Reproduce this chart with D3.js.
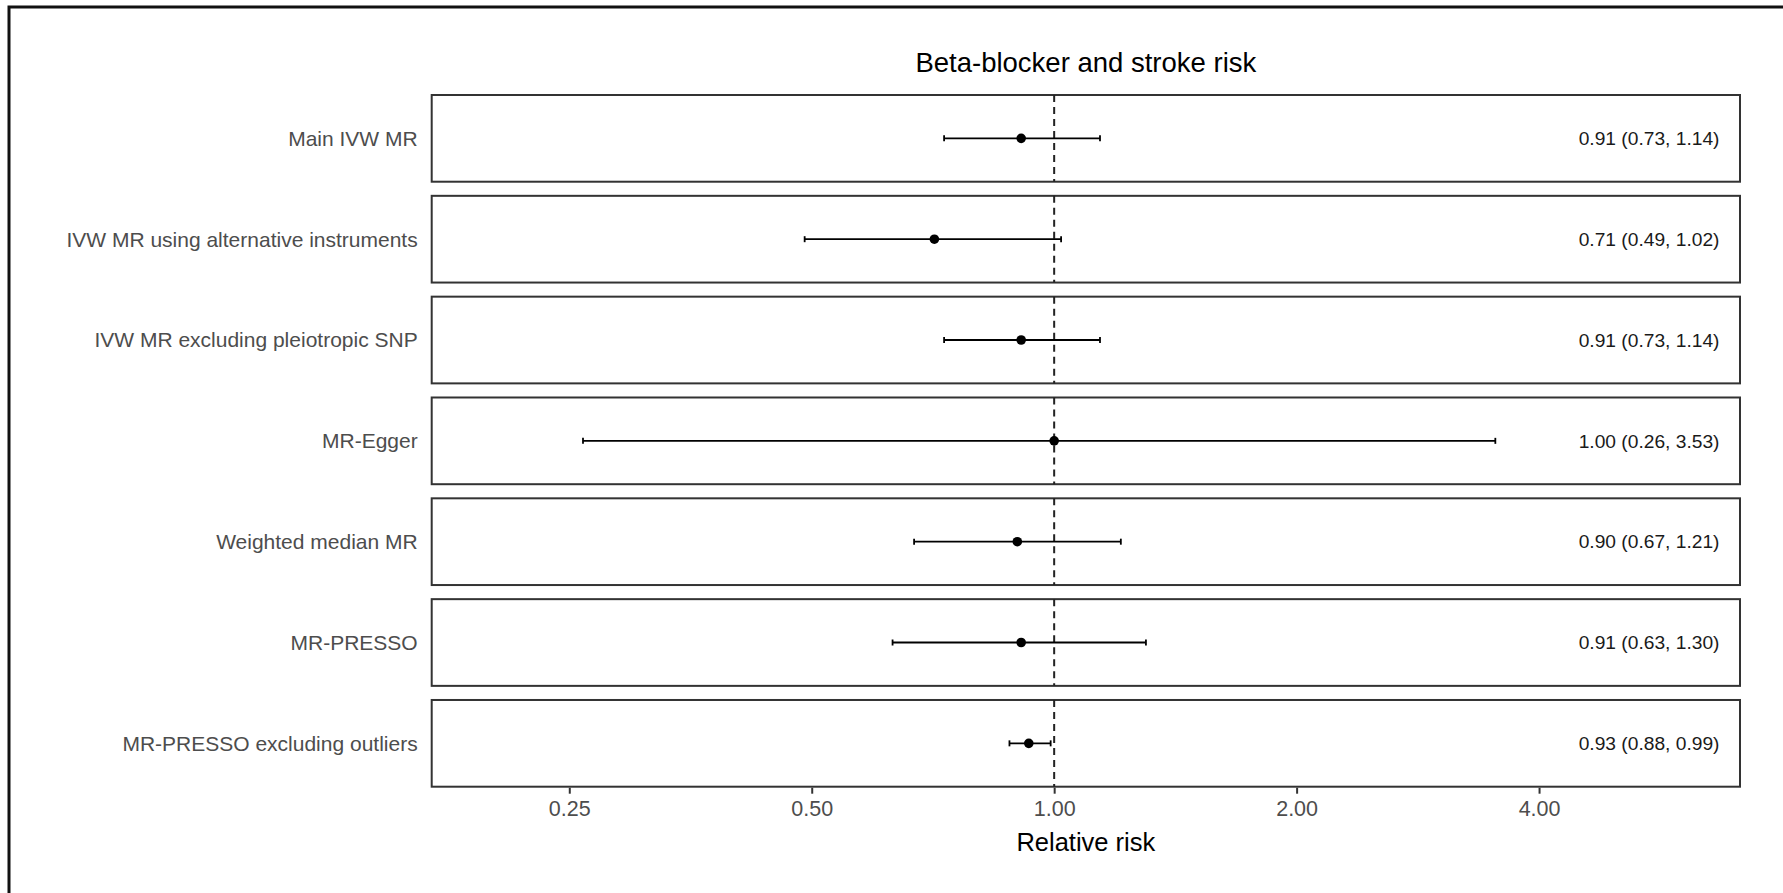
<!DOCTYPE html>
<html>
<head>
<meta charset="utf-8">
<script src="https://cdn.jsdelivr.net/npm/d3@7"></script>
<style>
  body { margin: 0; background: #fff; }
  svg { display: block; font-family: "Liberation Sans", Arial, sans-serif; }
</style>
</head>
<body>
<div id="chart"></div>
<script>
// forest plot data, top to bottom
const methods = [
  "Main IVW MR",
  "IVW MR using alternative instruments",
  "IVW MR excluding pleiotropic SNP",
  "MR-Egger",
  "Weighted median MR",
  "MR-PRESSO",
  "MR-PRESSO excluding outliers"
];
const estimate = [0.91, 0.71, 0.91, 1.00, 0.90, 0.91, 0.93];
const lower = [0.73, 0.49, 0.73, 0.26, 0.67, 0.63, 0.88];
const upper = [1.14, 1.02, 1.14, 3.53, 1.21, 1.30, 0.99];
const tickValues = [0.25, 0.5, 1, 2, 4];

const W = 1783, H = 893;
const panel = { left: 431.7, right: 1740, top: 95, bottom: 786.7 };

const rows = methods.map((m, i) => ({
  method: m, est: estimate[i], lo: lower[i], hi: upper[i],
  label: `${estimate[i].toFixed(2)} (${lower[i].toFixed(2)}, ${upper[i].toFixed(2)})`
}));

const svg = d3.select("#chart").append("svg")
  .attr("width", W).attr("height", H);

// outer frame (right/bottom fall outside the picture)
svg.append("rect")
  .attr("x", 9).attr("y", 7)
  .attr("width", W + 20).attr("height", H + 20)
  .attr("fill", "none").attr("stroke", "#111").attr("stroke-width", 3);

const x = d3.scaleLog().base(2)
  .domain([0.1687, 7.105])
  .range([panel.left, panel.right]);

const y = d3.scaleBand()
  .domain(methods)
  .range([panel.top, panel.bottom])
  .paddingInner(0.14)
  .paddingOuter(0);

const bw = y.bandwidth();

const facet = svg.append("g")
  .selectAll("g")
  .data(rows)
  .join("g")
  .attr("transform", d => `translate(0,${y(d.method)})`);

facet.append("rect")
  .attr("x", panel.left).attr("y", 0)
  .attr("width", panel.right - panel.left).attr("height", bw)
  .attr("fill", "#fff").attr("stroke", "#333").attr("stroke-width", 2);

// reference line at 1
facet.append("line")
  .attr("x1", x(1)).attr("x2", x(1))
  .attr("y1", 0).attr("y2", bw)
  .attr("stroke", "#222").attr("stroke-width", 2)
  .attr("stroke-dasharray", "7,5");

// error bars
facet.append("line")
  .attr("x1", d => x(d.lo)).attr("x2", d => x(d.hi))
  .attr("y1", bw / 2).attr("y2", bw / 2)
  .attr("stroke", "#000").attr("stroke-width", 1.8);

facet.selectAll(".cap")
  .data(d => [d.lo, d.hi])
  .join("line")
  .attr("class", "cap")
  .attr("x1", v => x(v)).attr("x2", v => x(v))
  .attr("y1", bw / 2 - 3).attr("y2", bw / 2 + 3)
  .attr("stroke", "#000").attr("stroke-width", 1.8);

facet.append("circle")
  .attr("cx", d => x(d.est)).attr("cy", bw / 2)
  .attr("r", 4.8).attr("fill", "#000");

facet.append("text")
  .attr("x", x(6.7)).attr("y", bw / 2)
  .attr("dy", "0.35em")
  .attr("text-anchor", "end")
  .attr("font-size", 19.2)
  .attr("fill", "#1a1a1a")
  .text(d => d.label);

// method labels
facet.append("text")
  .attr("x", panel.left - 14).attr("y", bw / 2)
  .attr("dy", "0.35em")
  .attr("text-anchor", "end")
  .attr("font-size", 21)
  .attr("fill", "#4d4d4d")
  .text(d => d.method);

// x axis below last panel
const axis = d3.axisBottom(x)
  .tickValues(tickValues)
  .tickFormat(d3.format(".2f"))
  .tickSize(6)
  .tickPadding(7);

const gx = svg.append("g")
  .attr("transform", `translate(0,${panel.bottom + 1})`)
  .call(axis);
gx.select(".domain").remove();
gx.selectAll(".tick line").attr("stroke", "#333").attr("stroke-width", 2);
gx.selectAll(".tick text")
  .attr("font-size", 21.5)
  .attr("font-family", "Liberation Sans, Arial, sans-serif")
  .attr("fill", "#4d4d4d");

const cx = (panel.left + panel.right) / 2;

svg.append("text")
  .attr("x", cx).attr("y", 72)
  .attr("text-anchor", "middle")
  .attr("font-size", 27.5)
  .attr("fill", "#000")
  .text("Beta-blocker and stroke risk");

svg.append("text")
  .attr("x", cx).attr("y", 851)
  .attr("text-anchor", "middle")
  .attr("font-size", 25.5)
  .attr("fill", "#000")
  .text("Relative risk");
</script>
</body>
</html>
